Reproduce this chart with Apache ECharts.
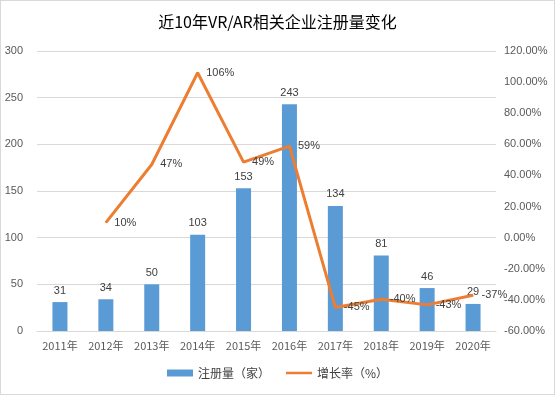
<!DOCTYPE html>
<html><head><meta charset="utf-8">
<script src="https://cdn.jsdelivr.net/npm/echarts@6/dist/echarts.min.js"></script>
<style>html,body{margin:0;padding:0;background:#fff;}#c{width:553px;height:393px;border:1px solid #d9d9d9;}</style>
</head><body><div id="c"></div>
<script>
const categories = ['2011年','2012年','2013年','2014年','2015年','2016年','2017年','2018年','2019年','2020年'];
const registrations = [31,34,50,103,153,243,134,81,46,29];
const growthRate = [null,9.68,47.06,106.0,48.54,58.82,-44.86,-39.55,-43.21,-36.96];
const seriesNames = ['注册量（家）','增长率（%）'];
const chart = echarts.init(document.getElementById('c'));
chart.setOption({
  animation:false,
  title:{text:'近10年VR/AR相关企业注册量变化',left:'center',top:8,textStyle:{fontFamily:'Noto Sans CJK SC',fontSize:16,fontWeight:'normal',color:'#000'}},
  grid:{left:36,right:58,top:50,bottom:63},
  legend:{bottom:10,itemGap:16,itemWidth:26,itemHeight:7,textStyle:{fontFamily:'Noto Sans CJK SC',fontSize:12,color:'#404040'},
    data:[{name:seriesNames[0],icon:'rect'},
          {name:seriesNames[1],icon:'path://M0,0L0.01,0L0,0.01Z M0,2.25L30,2.25L30,5.25L0,5.25Z M0,7.5L0.01,7.5L0,7.49Z'}]},
  xAxis:{type:'category',data:categories,axisLine:{lineStyle:{color:'#d9d9d9'}},axisTick:{show:false},
    axisLabel:{interval:0,color:'#595959',fontSize:11,fontFamily:'Noto Sans CJK SC',margin:9}},
  yAxis:[
    {type:'value',min:0,max:300,interval:50,axisLine:{show:false},axisTick:{show:false},
     axisLabel:{color:'#595959',fontSize:11,margin:14},splitLine:{lineStyle:{color:'#d9d9d9'}}},
    {type:'value',min:-60,max:120,interval:20,axisLine:{show:false},axisTick:{show:false},
     axisLabel:{color:'#595959',fontSize:11,margin:8,formatter:v=>v.toFixed(2)+'%'},splitLine:{show:false}}
  ],
  series:[
    {name:seriesNames[0],type:'bar',data:registrations,barWidth:15,itemStyle:{color:'#5B9BD5'},
     label:{show:true,position:'top',color:'#404040',fontSize:11,distance:6}},
    {name:seriesNames[1],type:'line',yAxisIndex:1,data:growthRate,symbol:'circle',symbolSize:1,showSymbol:true,
     lineStyle:{color:'#ED7D31',width:3},itemStyle:{color:'#ED7D31'},
     label:{show:true,position:'right',color:'#404040',fontSize:11,distance:8,formatter:p=>Math.round(p.value)+'%'}}
  ]
});
</script></body></html>
